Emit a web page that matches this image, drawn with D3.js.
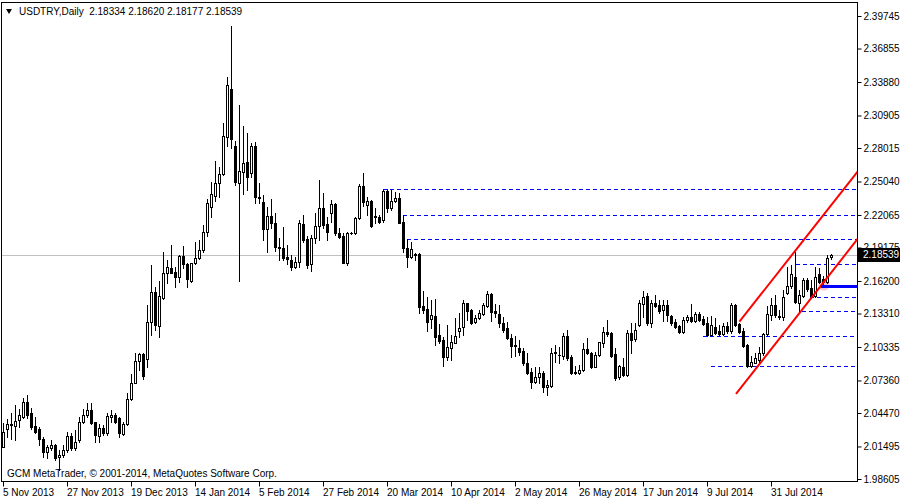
<!DOCTYPE html>
<html><head><meta charset="utf-8">
<script src="https://cdn.jsdelivr.net/npm/d3@7"></script>
<style>
body{margin:0;background:#fff}
svg{display:block}
text{font-family:"Liberation Sans",Arial,sans-serif;font-size:10px;fill:#000}
</style>
</head><body><svg id="c" width="900" height="500"></svg>
<script>
// ---- data ----
const symbolTitle = "USDTRY,Daily";
const copyright = "GCM MetaTrader, \u00A9 2001-2014, MetaQuotes Software Corp.";

const open = [
2.0145,2.0305,2.0340,2.0331,2.0385,2.0411,2.0545,2.0447,2.0331,2.0305,
2.0216,2.0101,2.0136,2.0163,2.0056,2.0074,2.0118,2.0243,2.0136,2.0207,
2.0367,2.0429,2.0474,2.0367,2.0243,2.0314,2.0269,2.0411,2.0429,2.0403,
2.0260,2.0349,2.0571,2.0714,2.0909,2.0971,2.0927,2.1256,2.1522,2.1220,
2.1469,2.1691,2.1736,2.1700,2.1656,2.1842,2.1771,2.1620,2.1780,2.1824,
2.1896,2.2055,2.2278,2.2375,2.2491,2.2571,2.2900,2.3326,2.2820,2.2491,
2.2589,2.2677,2.2580,2.2820,2.2366,2.2322,2.2082,2.2198,2.2135,2.1922,
2.1913,2.1833,2.1807,2.1744,2.1789,2.2127,2.1993,2.1771,2.2002,2.2109,
2.2269,2.2127,2.2224,2.2304,2.2047,2.2020,2.1780,2.2047,2.2047,2.2180,
2.2464,2.2295,2.2331,2.2198,2.2189,2.2162,2.2420,2.2269,2.2331,2.2358,
2.2144,2.1913,2.1833,2.1860,2.1860,2.1398,2.1371,2.1282,2.1309,2.1140,
2.1096,2.0945,2.1025,2.1069,2.1176,2.1211,2.1425,2.1362,2.1256,2.1291,
2.1327,2.1398,2.1505,2.1353,2.1327,2.1247,2.1202,2.1114,2.1051,2.1025,
2.0998,2.0891,2.0811,2.0723,2.0767,2.0802,2.0678,2.0687,2.0980,2.0962,
2.0954,2.1131,2.0945,2.0811,2.0802,2.0829,2.1016,2.0980,2.0856,2.0962,
2.1069,2.1167,2.1158,2.0971,2.0767,2.0856,2.0785,2.1158,2.1105,2.1229,
2.1416,2.1487,2.1247,2.1425,2.1407,2.1362,2.1407,2.1309,2.1256,2.1220,
2.1167,2.1274,2.1300,2.1265,2.1327,2.1282,2.1247,2.1140,2.1211,2.1176,
2.1149,2.1220,2.1176,2.1407,2.1238,2.1176,2.1051,2.0865,2.0891,2.0918,
2.0980,2.1149,2.1318,2.1407,2.1309,2.1300,2.1513,2.1576,2.1656,2.1425,
2.1487,2.1629,2.1558,2.1487,2.1682,2.1638,2.1611,2.18334];

const high = [
2.0358,2.0394,2.0447,2.0518,2.0483,2.0580,2.0607,2.0492,2.0411,2.0323,
2.0234,2.0163,2.0207,2.0172,2.0118,2.0163,2.0278,2.0269,2.0296,2.0411,
2.0483,2.0536,2.0536,2.0367,2.0349,2.0340,2.0447,2.0474,2.0447,2.0411,
2.0367,2.0625,2.0794,2.0980,2.0980,2.0980,2.1407,2.1762,2.1567,2.1620,
2.1878,2.1807,2.1940,2.1744,2.1851,2.1931,2.1780,2.1780,2.1967,2.1984,
2.2118,2.2349,2.2500,2.2686,2.2633,2.3024,2.3433,2.3886,2.2864,2.3184,
2.2997,2.2935,2.2846,2.2855,2.2491,2.2384,2.2278,2.2349,2.2224,2.2002,
2.2100,2.1940,2.1851,2.1833,2.2162,2.2207,2.2020,2.2029,2.2224,2.2518,
2.2402,2.2189,2.2340,2.2313,2.2091,2.2047,2.2055,2.2055,2.2189,2.2482,
2.2580,2.2366,2.2340,2.2269,2.2207,2.2429,2.2438,2.2429,2.2411,2.2402,
2.2207,2.1993,2.1967,2.1869,2.1869,2.1531,2.1478,2.1451,2.1460,2.1238,
2.1122,2.1229,2.1140,2.1291,2.1336,2.1451,2.1425,2.1371,2.1318,2.1362,
2.1425,2.1531,2.1513,2.1416,2.1407,2.1300,2.1256,2.1149,2.1131,2.1096,
2.1025,2.0980,2.0847,2.0856,2.0856,2.0820,2.0740,2.1025,2.1051,2.1034,
2.1158,2.1185,2.0962,2.0865,2.0873,2.1069,2.1114,2.0989,2.0989,2.1078,
2.1211,2.1274,2.1167,2.1025,2.0873,2.0936,2.1185,2.1247,2.1247,2.1451,
2.1531,2.1513,2.1451,2.1496,2.1451,2.1451,2.1451,2.1318,2.1282,2.1229,
2.1300,2.1318,2.1416,2.1345,2.1345,2.1309,2.1300,2.1309,2.1291,2.1229,
2.1247,2.1256,2.1425,2.1416,2.1247,2.1202,2.1060,2.0954,2.0980,2.1034,
2.1158,2.1398,2.1469,2.1496,2.1362,2.1540,2.1744,2.1762,2.1878,2.1540,
2.1647,2.1647,2.1629,2.1744,2.1736,2.1664,2.1851,2.18620];

const low = [
2.0145,2.0234,2.0216,2.0207,2.0323,2.0403,2.0403,2.0305,2.0269,2.0163,
2.0056,2.0047,2.0118,2.0029,1.9941,2.0056,2.0101,2.0118,2.0118,2.0189,
2.0358,2.0411,2.0349,2.0189,2.0189,2.0251,2.0251,2.0367,2.0358,2.0234,
2.0251,2.0340,2.0563,2.0714,2.0829,2.0749,2.0856,2.1140,2.1185,2.1122,
2.1460,2.1602,2.1691,2.1567,2.1611,2.1736,2.1567,2.1611,2.1771,2.1815,
2.1878,2.2020,2.2189,2.2331,2.2366,2.2562,2.2820,2.2802,2.2473,2.1620,
2.2393,2.2429,2.2544,2.2313,2.2313,2.1984,2.1878,2.2091,2.1887,2.1807,
2.1807,2.1771,2.1718,2.1736,2.1744,2.1967,2.1736,2.1709,2.1958,2.1984,
2.2091,2.1984,2.2144,2.2029,2.2002,2.1780,2.1762,2.2038,2.2038,2.2171,
2.2286,2.2207,2.2100,2.2135,2.2135,2.2144,2.2233,2.2251,2.2322,2.2135,
2.1878,2.1744,2.1824,2.1807,2.1336,2.1336,2.1176,2.1202,2.1051,2.1069,
2.0865,2.0918,2.0918,2.1069,2.1122,2.1140,2.1274,2.1238,2.1247,2.1282,
2.1318,2.1389,2.1265,2.1300,2.1211,2.1167,2.1105,2.0945,2.0954,2.0962,
2.0873,2.0794,2.0669,2.0714,2.0714,2.0634,2.0607,2.0678,2.0900,2.0891,
2.0927,2.0918,2.0794,2.0794,2.0794,2.0820,2.0971,2.0847,2.0856,2.0954,
2.1034,2.1131,2.0945,2.0740,2.0749,2.0776,2.0776,2.0980,2.1087,2.1220,
2.1300,2.1229,2.1211,2.1389,2.1336,2.1265,2.1265,2.1229,2.1202,2.1158,
2.1158,2.1256,2.1256,2.1256,2.1265,2.1229,2.1131,2.1131,2.1149,2.1140,
2.1140,2.1158,2.1158,2.1220,2.1158,2.1034,2.0856,2.0856,2.0891,2.0900,
2.0962,2.1131,2.1274,2.1300,2.1282,2.1274,2.1505,2.1558,2.1425,2.1345,
2.1478,2.1531,2.1478,2.1478,2.1602,2.1593,2.1602,2.18177];

const close = [
2.0278,2.0349,2.0349,2.0376,2.0429,2.0545,2.0429,2.0323,2.0278,2.0216,
2.0101,2.0145,2.0163,2.0047,2.0074,2.0118,2.0243,2.0136,2.0189,2.0367,
2.0429,2.0474,2.0358,2.0251,2.0314,2.0269,2.0420,2.0429,2.0367,2.0269,
2.0349,2.0571,2.0714,2.0909,2.0971,2.0776,2.1256,2.1522,2.1229,2.1487,
2.1691,2.1744,2.1691,2.1656,2.1842,2.1771,2.1638,2.1780,2.1824,2.1896,
2.2055,2.2313,2.2393,2.2491,2.2571,2.2909,2.3362,2.2882,2.2500,2.2597,
2.2669,2.2544,2.2820,2.2366,2.2358,2.2082,2.2198,2.2135,2.1922,2.1913,
2.1824,2.1815,2.1744,2.1789,2.2135,2.1984,2.1762,2.2002,2.2109,2.2269,
2.2118,2.2055,2.2304,2.2047,2.2011,2.1780,2.2047,2.2047,2.2180,2.2464,
2.2322,2.2331,2.2109,2.2189,2.2144,2.2420,2.2269,2.2331,2.2358,2.2135,
2.1913,2.1833,2.1904,2.1851,2.1389,2.1362,2.1256,2.1318,2.1122,2.1087,
2.0945,2.1034,2.1078,2.1131,2.1202,2.1425,2.1353,2.1247,2.1291,2.1336,
2.1407,2.1505,2.1345,2.1336,2.1247,2.1185,2.1114,2.1042,2.1042,2.0989,
2.0891,2.0802,2.0723,2.0767,2.0802,2.0678,2.0696,2.0980,2.0989,2.0962,
2.1131,2.0936,2.0802,2.0802,2.0829,2.1016,2.0980,2.0856,2.0962,2.1078,
2.1167,2.1149,2.0954,2.0758,2.0865,2.0785,2.1158,2.1096,2.1185,2.1425,
2.1478,2.1247,2.1425,2.1398,2.1353,2.1407,2.1318,2.1247,2.1211,2.1167,
2.1274,2.1300,2.1265,2.1327,2.1274,2.1238,2.1140,2.1229,2.1158,2.1149,
2.1220,2.1176,2.1407,2.1229,2.1167,2.1042,2.0865,2.0900,2.0936,2.0980,
2.1149,2.1327,2.1407,2.1318,2.1300,2.1478,2.1576,2.1682,2.1433,2.1496,
2.1629,2.1549,2.1487,2.1656,2.1611,2.1611,2.1824,2.18539];

const dateIdx = [0,16,32,48,64,80,96,112,128,144,160,176,192];
const dateLabels = ["5 Nov 2013","27 Nov 2013","19 Dec 2013","14 Jan 2014","5 Feb 2014","27 Feb 2014","20 Mar 2014","10 Apr 2014","2 May 2014","26 May 2014","17 Jun 2014","9 Jul 2014","31 Jul 2014"];
const priceTicks = [2.39745,2.36855,2.33880,2.30905,2.28015,2.25040,2.22065,2.19175,2.16200,2.13310,2.10335,2.07360,2.04470,2.01495,1.98605];

// horizontal dashed levels (price) and the bar where each starts
const levelPrices = [2.2435,2.2206,2.1990,2.1768,2.1474,2.1353,2.1135,2.0862];
const levelStart  = [95,100,101,198.25,201.75,199.75,175,177];
// solid support level
const supportPrice = 2.1578, supportStart = 204.5;
// channel trend lines: [bar, price] anchor pairs
const upperIdx = [184.1,213.75], upperPrice = [2.1258,2.2597];
const lowerIdx = [183.25,213.75], lowerPrice = [2.0616,2.1998];
// marker circle
const markIdx = 205.25, markPrice = 2.1584;

// ---- drawing ----
const svg = d3.select("#c");
const P = {l:1.5, r:857.5, t:2.5, b:481.5};
const x = d3.scaleLinear().domain([0,213.75]).range([3,858]);
const y = d3.scaleLinear().domain([1.98605,2.39745]).range([479,16]);

svg.append("rect").attr("width",900).attr("height",500).attr("fill","#fff");
svg.append("clipPath").attr("id","clip").append("rect")
  .attr("x",P.l).attr("y",P.t).attr("width",P.r-P.l).attr("height",P.b-P.t);

const g = svg.append("g").attr("clip-path","url(#clip)");
const lastClose = close[close.length-1];
const yl = Math.round(y(lastClose))+0.5;
g.append("line").attr("x1",P.l).attr("x2",P.r).attr("y1",yl).attr("y2",yl)
  .attr("stroke","#c0c0c0").attr("stroke-width",1);

g.selectAll("line.lvl").data(levelPrices).join("line").attr("class","lvl")
  .attr("x1",(d,i)=>Math.round(x(levelStart[i]))).attr("x2",P.r)
  .attr("y1",d=>Math.round(y(d))+0.5).attr("y2",d=>Math.round(y(d))+0.5)
  .attr("stroke","#0000ff").attr("stroke-width",1).attr("stroke-dasharray","4,3");

g.append("circle").attr("cx",x(markIdx)).attr("cy",y(markPrice)).attr("r",5.5)
  .attr("fill","#ffb6c1").attr("opacity",0.85);

const data = open.map((o,i)=>({i,o,h:high[i],l:low[i],c:close[i]}));
const cg = g.append("g");
data.forEach(d=>{
  const cx = Math.round(x(d.i));
  const yO=Math.round(y(d.o)), yC=Math.round(y(d.c)), yH=Math.round(y(d.h)), yL=Math.round(y(d.l));
  cg.append("line").attr("x1",cx+0.5).attr("x2",cx+0.5).attr("y1",yH).attr("y2",yL+1)
    .attr("stroke","#000").attr("stroke-width",1);
  if (d.c > d.o) {
    const top=yC, bot=yO;
    if (bot-top < 1) {
      cg.append("rect").attr("x",cx-1).attr("y",top).attr("width",3).attr("height",1).attr("fill","#000");
    } else {
      cg.append("rect").attr("x",cx-0.5).attr("y",top+0.5).attr("width",2).attr("height",bot-top)
        .attr("fill","#fff").attr("stroke","#000").attr("stroke-width",1);
    }
  } else {
    const top=yO, bot=yC;
    cg.append("rect").attr("x",cx-1).attr("y",top).attr("width",3).attr("height",Math.max(1,bot-top+1)).attr("fill","#000");
  }
});

function ray(idx, pr){
  const x1=x(idx[0]), y1=y(pr[0]), x2=x(idx[1]), y2=y(pr[1]);
  return [[x1,y1],[x2,y2]];
}
[[upperIdx,upperPrice],[lowerIdx,lowerPrice]].forEach(([a,b])=>{
  g.append("path").attr("d",d3.line()(ray(a,b))).attr("stroke","#ff0000")
   .attr("stroke-width",2).attr("fill","none");
});

const ys = Math.round(y(supportPrice))+0.5;
g.append("line").attr("x1",x(supportStart)).attr("x2",P.r).attr("y1",ys).attr("y2",ys)
  .attr("stroke","#0000ff").attr("stroke-width",3);

// frame
svg.append("rect").attr("x",P.l).attr("y",P.t).attr("width",P.r-P.l).attr("height",P.b-P.t)
  .attr("fill","none").attr("stroke","#000").attr("stroke-width",1);

// right price axis
const ay = svg.append("g").attr("transform",`translate(${P.r},0)`)
  .call(d3.axisRight(y).tickValues(priceTicks).tickSize(4).tickPadding(2).tickFormat(d3.format(".5f")));
ay.select(".domain").remove();
ay.selectAll("text").attr("font-family","Liberation Sans, Arial, sans-serif").attr("font-size",10);

// bottom date axis
const ax = svg.append("g").attr("transform",`translate(0,${P.b})`)
  .call(d3.axisBottom(x).tickValues(dateIdx).tickSize(5).tickPadding(2).tickFormat((d,i)=>dateLabels[i]));
ax.select(".domain").remove();
ax.selectAll("text").attr("text-anchor","start").attr("x",-0.5)
  .attr("font-family","Liberation Sans, Arial, sans-serif").attr("font-size",10);

// current price label
const yc = y(lastClose);
svg.append("rect").attr("x",858).attr("y",Math.round(yc)-7).attr("width",42).attr("height",14).attr("fill","#000");
svg.append("text").attr("x",863).attr("y",yc).attr("dy","0.35em").style("fill","#fff")
  .text(d3.format(".5f")(lastClose));

// title
svg.append("path").attr("d","M6,9L12,9L9,14Z").attr("fill","#000");
svg.append("text").attr("x",19).attr("y",15).style("white-space","pre")
  .text(symbolTitle+"  "+[open,high,low,close].map(a=>d3.format(".5f")(a[a.length-1])).join(" "));

svg.append("text").attr("x",7).attr("y",477).text(copyright);
</script>
</body></html>
